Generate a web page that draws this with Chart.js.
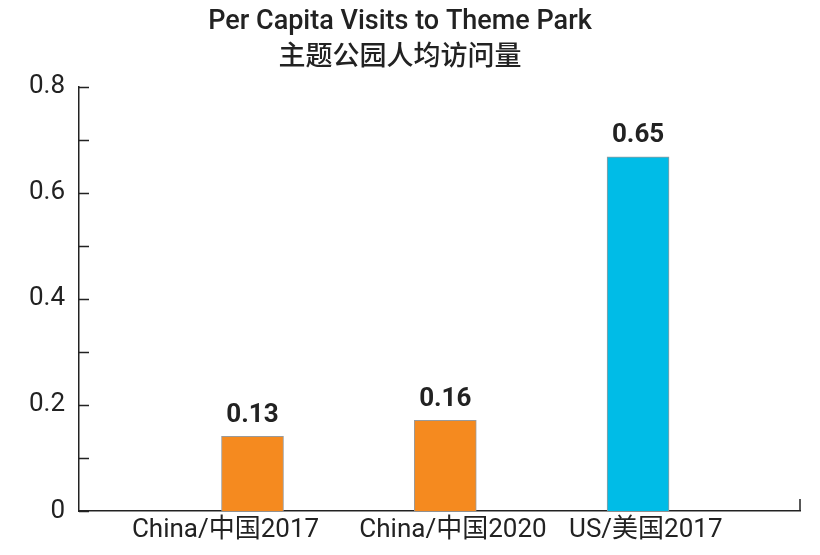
<!DOCTYPE html>
<html>
<head>
<meta charset="utf-8">
<script src="https://cdn.jsdelivr.net/npm/chart.js@4"></script>
<style>
  html, body { margin: 0; padding: 0; background: #fff; }
  #wrap { width: 820px; height: 555px; }
</style>
</head>
<body>
<div id="wrap"><canvas id="c" width="820" height="555"></canvas></div>
<script>
// values (bar heights) and the printed labels above them
const categories = ['China/中国2017', 'China/中国2020', 'US/美国2017'];
const barValues = [0.141, 0.171, 0.668];
const valueLabels = ['0.13', '0.16', '0.65'];
const barColors = ['#F58A1F', '#F58A1F', '#00BCE7'];
const yTickLabels = { 0: '0', 2: '0.2', 4: '0.4', 6: '0.6', 8: '0.8' };

const FONT = 'Roboto, "Noto Sans CJK SC", "Liberation Sans", sans-serif';
const INK = '#222';
// the original's category labels sit a little off their bars
const LABEL_SHIFT = [-0.14, 0.04, 0.04];

// inward ticks on the y axis, small end tick on the x axis, value labels
const decor = {
  id: 'decor',
  afterDatasetsDraw(chart) {
    const { ctx, chartArea: a, scales: { y } } = chart;
    ctx.save();
    ctx.strokeStyle = INK;
    ctx.lineWidth = 1.5;
    ctx.beginPath();
    for (let i = 0; i <= 8; i++) {
      const py = Math.round(y.getPixelForValue(i / 10)) + 0.5;
      ctx.moveTo(a.left, py);
      ctx.lineTo(a.left + 10, py);
    }
    ctx.moveTo(a.right, a.bottom);
    ctx.lineTo(a.right, a.bottom - 12);
    ctx.stroke();

    ctx.fillStyle = INK;
    ctx.font = 'bold 26px ' + FONT;
    ctx.textAlign = 'center';
    ctx.textBaseline = 'bottom';
    chart.getDatasetMeta(0).data.forEach((bar, i) => {
      ctx.fillText(valueLabels[i], bar.x, bar.y - 8);
    });
    ctx.restore();
  }
};

new Chart(document.getElementById('c'), {
  type: 'bar',
  data: {
    datasets: [{
      data: barValues.map((v, i) => ({ x: i, y: v })),
      backgroundColor: barColors,
      borderColor: '#9a9a9a',
      borderWidth: 1,
      borderSkipped: 'bottom',
      barThickness: 62
    }]
  },
  options: {
    responsive: false,
    animation: false,
    layout: { padding: { left: 0, right: 20, top: 0, bottom: 0 } },
    plugins: {
      legend: { display: false },
      tooltip: { enabled: false },
      title: {
        display: true,
        text: ['Per Capita Visits to Theme Park', '主题公园人均访问量'],
        color: INK,
        font: { family: FONT, size: 27, weight: '500', lineHeight: 1.35 },
        padding: { top: 4, bottom: 10 }
      }
    },
    scales: {
      x: {
        type: 'linear',
        offset: false,
        min: -0.9,
        max: 2.84,
        afterBuildTicks: (s) => { s.ticks = categories.map((_, i) => ({ value: i + LABEL_SHIFT[i] })); },
        afterFit: (s) => { s.height = 44; },
        grid: { display: false, drawTicks: false },
        border: { display: true, color: INK, width: 1.5 },
        ticks: {
          color: INK,
          padding: 4,
          maxRotation: 0,
          autoSkip: false,
          font: { family: FONT, size: 26 },
          callback: (v) => categories[Math.round(v)] || ''
        }
      },
      y: {
        min: 0,
        max: 0.8,
        afterFit: (s) => { s.width = 79; },
        grid: { display: false, drawTicks: false },
        border: { display: true, color: INK, width: 1.5 },
        ticks: {
          stepSize: 0.1,
          color: INK,
          padding: 14,
          autoSkip: false,
          font: { family: FONT, size: 26 },
          callback: (v, i) => yTickLabels[i] !== undefined ? yTickLabels[i] : ''
        }
      }
    }
  },
  plugins: [decor]
});
</script>
</body>
</html>
